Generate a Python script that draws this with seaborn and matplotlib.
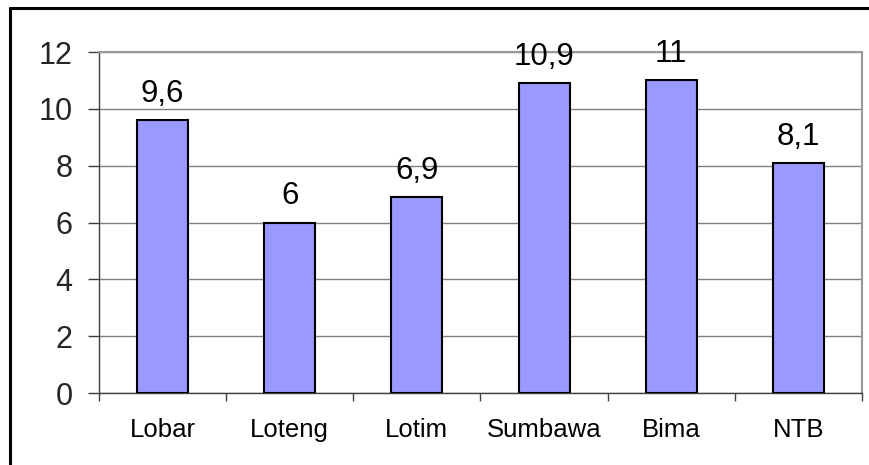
import matplotlib
matplotlib.use("Agg")
import matplotlib.pyplot as plt
from matplotlib.lines import Line2D
import numpy as np
import pandas as pd
import seaborn as sns

categories = ["Lobar", "Loteng", "Lotim", "Sumbawa", "Bima", "NTB"]
values = [9.6, 6, 6.9, 10.9, 11, 8.1]
value_labels = ["9,6", "6", "6,9", "10,9", "11", "8,1"]
y_ticks = [0, 2, 4, 6, 8, 10, 12]

sns.set_theme(style="white")
plt.rcParams['font.family'] = ['Liberation Sans', 'DejaVu Sans']

W, H = 870, 465
fig = plt.figure(figsize=(W / 100, H / 100), dpi=100)
ax = fig.add_axes([99 / W, 1 - 393 / H, (862 - 99) / W, (393 - 52) / H])

df = pd.DataFrame({"cat": categories, "val": values})
sns.barplot(data=df, x="cat", y="val", ax=ax, color="#9999FF", saturation=1,
            width=0.4, edgecolor="black", linewidth=1.5, zorder=3)

ax.set_xlim(-0.5, len(categories) - 0.5)
ax.set_ylim(0, 12)
ax.set_yticks(y_ticks)
ax.set_yticklabels([str(t) for t in y_ticks], fontsize=22)
ax.set_xlabel("")
ax.set_ylabel("")

ax.set_xticks(range(len(categories)))
ax.set_xticklabels(categories, fontsize=18.5)
ax.set_xticks(np.arange(-0.5, len(categories), 1), minor=True)
ax.tick_params(axis="x", which="major", length=0, pad=18, colors="black")
ax.tick_params(axis="x", which="minor", length=6, width=1, color="#404040", bottom=True)
ax.tick_params(axis="y", which="major", length=8, width=1, color="#404040", pad=11, left=True)

ax.yaxis.grid(True, color="#808080", linewidth=1)
ax.set_axisbelow(True)

for s in ["top", "right"]:
    ax.spines[s].set_color("#999999")
    ax.spines[s].set_linewidth(1.5)
for s in ["left", "bottom"]:
    ax.spines[s].set_color("#404040")
    ax.spines[s].set_linewidth(1)

for i, (v, lab) in enumerate(zip(values, value_labels)):
    ax.annotate(lab, (i, v), xytext=(0, 13), textcoords="offset points",
                ha="center", va="baseline", fontsize=22.5, color="black")

# outer chart border (top and left visible)
fig.add_artist(Line2D([10 / W, 1.0], [1 - 8 / H, 1 - 8 / H], color="black", linewidth=2.2, transform=fig.transFigure))
fig.add_artist(Line2D([10 / W, 10 / W], [1 - 8 / H, 0.0], color="black", linewidth=2.2, transform=fig.transFigure))

fig.savefig("out.png", dpi=100)
